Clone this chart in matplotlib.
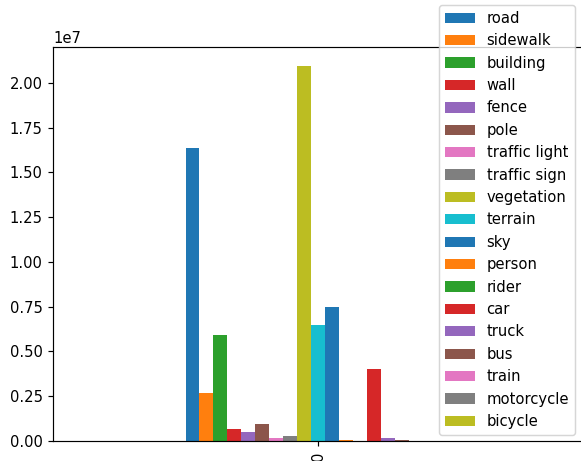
import numpy as np
import pandas as pd
import matplotlib
matplotlib.use('Agg')
import matplotlib.pyplot as plt

# class pixel counts (single row)
classes = ['road', 'sidewalk', 'building', 'wall', 'fence', 'pole',
           'traffic light', 'traffic sign', 'vegetation', 'terrain', 'sky',
           'person', 'rider', 'car', 'truck', 'bus', 'train', 'motorcycle',
           'bicycle']
counts = [1.635e7, 0.266e7, 0.59e7, 0.065e7, 0.053e7, 0.093e7,
          0.015e7, 0.027e7, 2.095e7, 0.645e7, 0.748e7,
          0.004e7, 0.0, 0.40e7, 0.016e7, 0.005e7, 0.0, 0.0,
          0.002e7]

df = pd.DataFrame([counts], columns=classes)

W, H = 581, 461
DPI = 106.5
fig = plt.figure(figsize=(W / DPI, H / DPI), dpi=DPI)
ax = fig.add_axes([53 / W, 20 / H, 530 / W, 394 / H])
df.plot.bar(ax=ax, legend=False)

ax.legend(loc='upper right', bbox_to_anchor=(575 / W, 1 - 5 / H),
          bbox_transform=fig.transFigure, borderaxespad=0)

plt.savefig('out.png', dpi=DPI)
